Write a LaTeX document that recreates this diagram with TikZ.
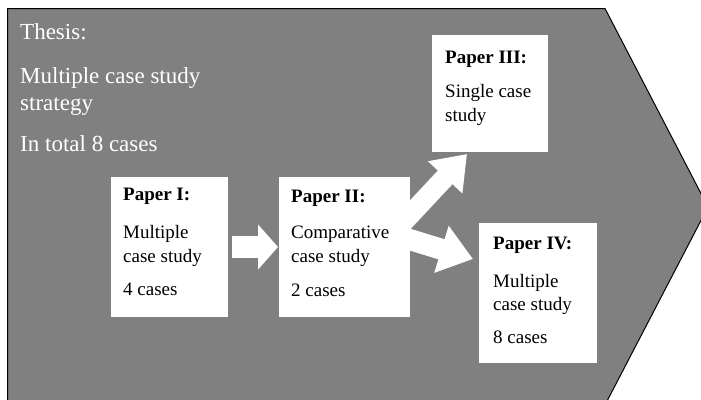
\documentclass[tikz,border=0pt]{standalone}
\usepackage{fontspec}
\setmainfont{Liberation Serif}
\usetikzlibrary{arrows.meta}
\pgfdeclarelayer{bg}
\pgfdeclarelayer{mid}
\pgfsetlayers{bg,mid,main}
\definecolor{shapegray}{RGB}{128,128,128}
\tikzset{
  box/.style={fill=white, draw=none, inner sep=0pt, outer sep=0pt, anchor=north west},
  thesistxt/.style={text=white, inner sep=0pt, anchor=base west, font=\fontsize{23}{27}\selectfont},
  boxtxt/.style={text=black, inner sep=0pt, anchor=base west, font=\fontsize{19}{24}\selectfont},
  boxhead/.style={boxtxt, font=\fontsize{19}{24}\selectfont\bfseries},
  blockarrow/.style={draw=white, line cap=butt}
}
\begin{document}
\begin{tikzpicture}[x=1pt,y=-1pt]
\useasboundingbox (0,0) rectangle (701,399);
% boxes
\node[box, minimum width=117pt, minimum height=140pt] (b1) at (111,177) {};
\node[box, minimum width=131pt, minimum height=140pt] (b2) at (279,177) {};
\node[box, minimum width=116pt, minimum height=117pt] (b3) at (432,35) {};
\node[box, minimum width=118pt, minimum height=140pt] (b4) at (479,223) {};
% background shape
\begin{pgfonlayer}{bg}
  \begin{scope}
    \clip (0,0) rectangle (701,399);
    \draw[fill=shapegray, draw=black, line width=1pt]
      (7.5,8.5) -- (605,8.5) -- (708,207) -- (605,405) -- (7.5,405) -- cycle;
  \end{scope}
\end{pgfonlayer}
% arrows
\begin{pgfonlayer}{mid}
  \draw[blockarrow, line width=22pt, -{Triangle[length=20pt,width=44pt]}]
    ([xshift=4pt]b1.east) -- ([xshift=-1pt]b2.west);
  \draw[blockarrow, line width=20pt, -{Triangle[length=32pt,width=45pt]}]
    ([shift={(-15,-16)}]b2.east) -- ([shift={(-23,2)}]b3.south);
  \draw[blockarrow, line width=21pt, -{Triangle[length=33pt,width=47pt]}]
    ([shift={(-15,-12)}]b2.east) -- ([shift={(-6,-34)}]b4.west);
\end{pgfonlayer}
% thesis text
\node[thesistxt] (t1) at (20,39) {Thesis:};
\node[thesistxt] (t2) at (20,83) {Multiple case study};
\node[thesistxt] (t3) at (20,110) {strategy};
\node[thesistxt] (t4) at (20,151) {In total 8 cases};
% box I
\node[boxhead] (p1h) at ([shift={(12,23)}]b1.north west) {Paper I:};
\node[boxtxt] (p1a) at ([shift={(12,61)}]b1.north west) {Multiple};
\node[boxtxt] (p1b) at ([shift={(12,85)}]b1.north west) {case study};
\node[boxtxt] (p1c) at ([shift={(12,118)}]b1.north west) {4 cases};
% box II
\node[boxhead] (p2h) at ([shift={(12,25)}]b2.north west) {Paper II:};
\node[boxtxt] (p2a) at ([shift={(12,61)}]b2.north west) {Comparative};
\node[boxtxt] (p2b) at ([shift={(12,85)}]b2.north west) {case study};
\node[boxtxt] (p2c) at ([shift={(12,119)}]b2.north west) {2 cases};
% box III
\node[boxhead] (p3h) at ([shift={(13,28)}]b3.north west) {Paper III:};
\node[boxtxt] (p3a) at ([shift={(13,62)}]b3.north west) {Single case};
\node[boxtxt] (p3b) at ([shift={(13,86)}]b3.north west) {study};
% box IV
\node[boxhead] (p4h) at ([shift={(14,26)}]b4.north west) {Paper IV:};
\node[boxtxt] (p4a) at ([shift={(14,64)}]b4.north west) {Multiple};
\node[boxtxt] (p4b) at ([shift={(14,87)}]b4.north west) {case study};
\node[boxtxt] (p4c) at ([shift={(14,120)}]b4.north west) {8 cases};
\end{tikzpicture}
\end{document}
